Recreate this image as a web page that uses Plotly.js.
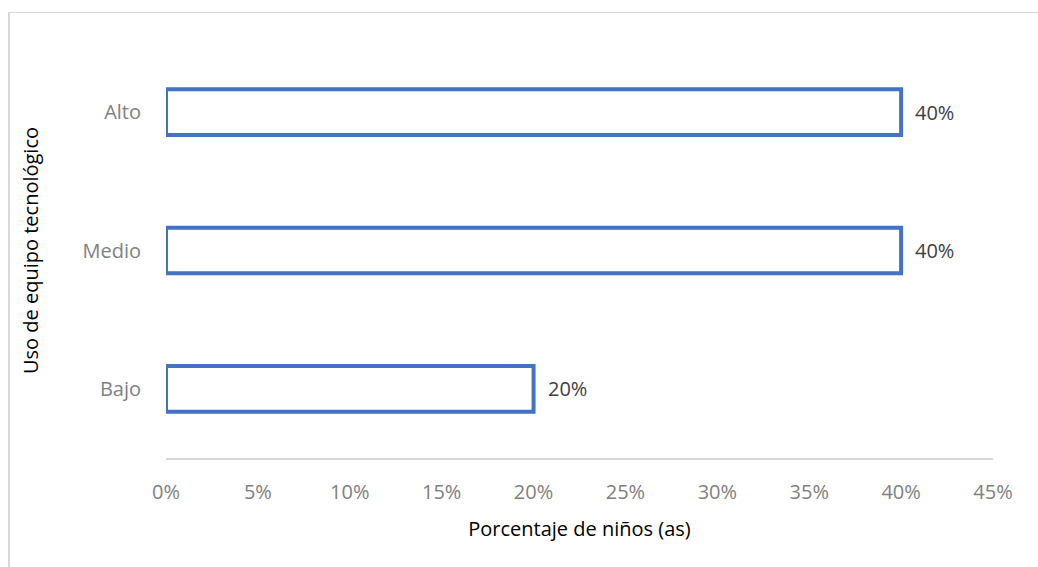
<!DOCTYPE html>
<html>
<head>
<meta charset="utf-8">
<script src="https://cdn.plot.ly/plotly-3.0.1.min.js"></script>
<style>
html,body{margin:0;padding:0;background:#fff;overflow:hidden;}
#frame{position:absolute;left:8px;top:12px;width:1100px;height:700px;border-left:2px solid #d9d9d9;border-top:1px solid #d9d9d9;}
#chart{position:absolute;left:0;top:0;width:1038px;height:567px;}
</style>
</head>
<body>
<div id="frame"></div>
<div id="chart"></div>
<script>
var categories = ["Bajo", "Medio", "Alto"];
var values = [0.20, 0.40, 0.40];
var xTickVals = [0, 0.05, 0.10, 0.15, 0.20, 0.25, 0.30, 0.35, 0.40, 0.45];
var xTickText = ["0%", "5%", "10%", "15%", "20%", "25%", "30%", "35%", "40%", "45%"];
var xTitle = "Porcentaje de niños (as)";
var yTitle = "Uso de equipo tecnológico";

var FONT = "'Open Sans', 'Liberation Sans', sans-serif";

var trace = {
  type: "bar",
  orientation: "h",
  y: categories,
  x: values,
  width: 0.33,
  marker: {color: "#ffffff", line: {color: "#4472C4", width: 4}},
  hoverinfo: "none"
};

var annotations = values.map(function(v, i){
  return {
    x: v, y: categories[i], xref: "x", yref: "y",
    text: Math.round(v*100) + "%",
    showarrow: false, xanchor: "left", yanchor: "middle",
    xshift: 12,
    font: {family: FONT, size: 20, color: "#404040"}
  };
});

var layout = {
  width: 1038, height: 567,
  margin: {l: 166, r: 45, t: 43, b: 109},
  paper_bgcolor: "rgba(0,0,0,0)",
  plot_bgcolor: "rgba(0,0,0,0)",
  showlegend: false,
  xaxis: {
    range: [0, 0.45],
    tickvals: xTickVals, ticktext: xTickText,
    showgrid: false, zeroline: false,
    showline: true, linecolor: "#d9d9d9", linewidth: 1.5,
    ticks: "outside", ticklen: 15, tickcolor: "rgba(0,0,0,0)",
    tickfont: {family: FONT, size: 20, color: "#808080"},
    title: {text: xTitle, font: {family: FONT, size: 20, color: "#000000"}, standoff: 18},
    fixedrange: true
  },
  yaxis: {
    range: [-0.5, 2.5],
    showgrid: false, zeroline: false, showline: false,
    ticks: "outside", ticklen: 20, tickcolor: "rgba(0,0,0,0)",
    tickfont: {family: FONT, size: 20, color: "#808080"},
    title: {text: yTitle, font: {family: FONT, size: 20, color: "#000000"}, standoff: 38},
    fixedrange: true
  },
  annotations: annotations
};

Plotly.newPlot("chart", [trace], layout, {displayModeBar: false, staticPlot: true});
</script>
</body>
</html>
